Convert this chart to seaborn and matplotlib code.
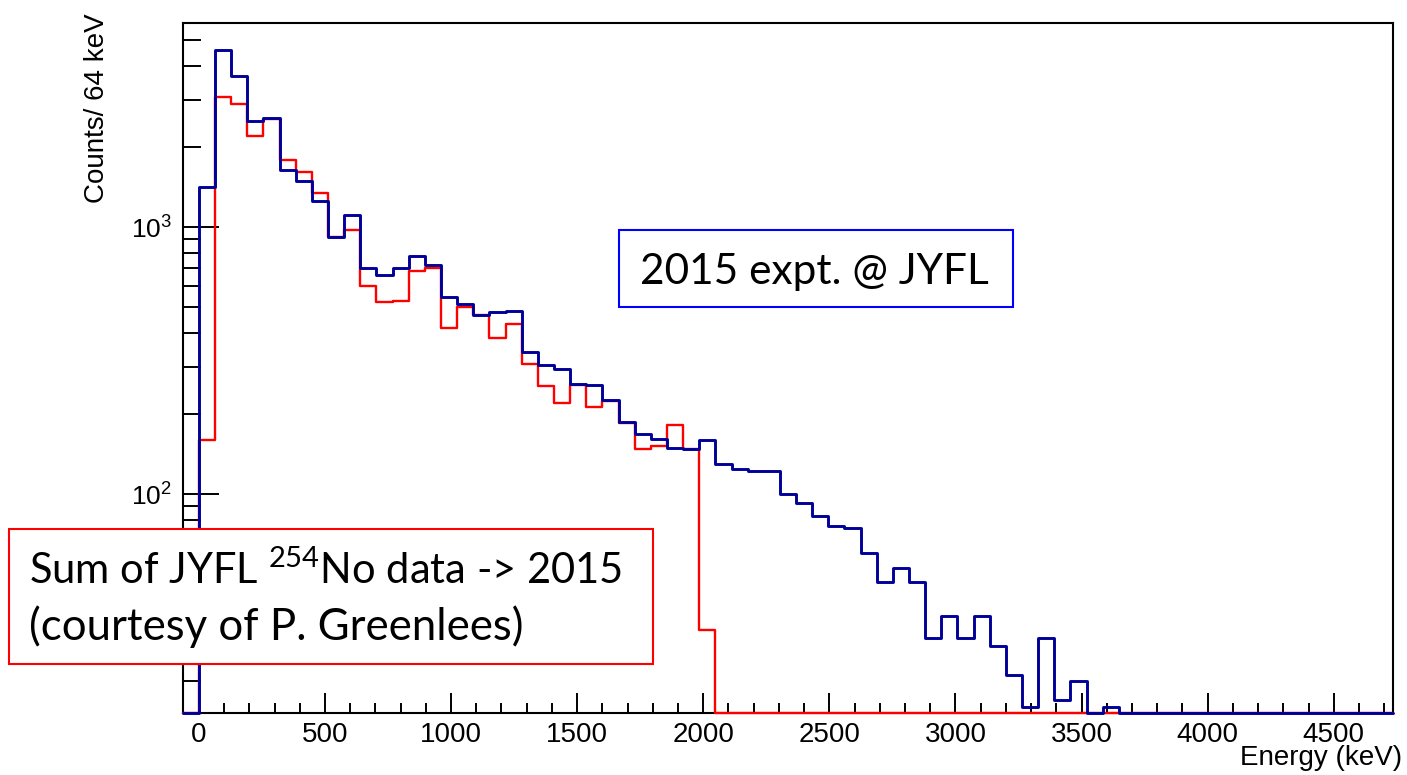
import numpy as np
import pandas as pd
import matplotlib
matplotlib.use("Agg")
import matplotlib.pyplot as plt
import matplotlib.ticker as mticker
from matplotlib.patches import Rectangle
import seaborn as sns

# 64 keV bins from -64 to 4736 keV
bin_width = 64
e_low = -64
e_high = 4736

# 2015 expt. @ JYFL (blue)
counts_2015 = [
    0, 1409, 4600, 3678, 2495, 2566, 1630, 1490, 1248, 920,
    1109, 700, 661, 700, 780, 721, 545, 515, 468, 482,
    486, 340, 304, 294, 258, 256, 225, 187, 168, 161,
    149, 147, 160, 130, 124, 122, 122, 100, 93, 83,
    76, 75, 60, 47, 53, 47, 29, 35, 29, 35,
    27, 21, 16, 29, 17, 20, 0, 16, 0, 0,
    0, 0, 0, 0, 0, 0, 0, 0, 0, 0,
    0, 0, 0, 0, 0,
]

# sum of JYFL 254No data -> 2015 (red)
counts_sum = [
    0, 160, 3076, 2884, 2193, 2536, 1778, 1611, 1340, 920,
    977, 601, 525, 530, 686, 700, 418, 500, 468, 385,
    433, 307, 255, 219, 256, 212, 224, 185, 148, 152,
    182, 147, 31, 0, 0, 0, 0, 0, 0, 0,
    0, 0, 0, 0, 0, 0, 0, 0, 0, 0,
    0, 0, 0, 0, 0, 0, 0, 0, 0, 0,
    0, 0, 0, 0, 0, 0, 0, 0, 0, 0,
    0, 0, 0, 0, 0,
]

x_ticks = [0, 500, 1000, 1500, 2000, 2500, 3000, 3500, 4000, 4500]

sns.set_style("white")
plt.rcParams["font.family"] = ["Liberation Sans", "DejaVu Sans"]
plt.rcParams["text.color"] = "black"
plt.rcParams["xtick.color"] = "black"
plt.rcParams["ytick.color"] = "black"

W, H = 1407, 775


def px(x, y):
    return x / W, 1 - y / H


edges = np.arange(e_low, e_high + bin_width, bin_width)
centers = edges[:-1] + bin_width / 2
y_min, y_max = 15.2, 5820

# empty bins sit on the lower frame, as in ROOT
df = pd.DataFrame({
    "energy": centers,
    "blue": np.clip(counts_2015, y_min, None),
    "red": np.clip(counts_sum, y_min, None),
})

fig = plt.figure(figsize=(W / 100, H / 100), dpi=100)
ax = fig.add_axes([182.7 / W, 1 - 712.7 / H, 1210.6 / W, 690 / H])

sns.histplot(data=df, x="energy", weights="red", bins=edges.tolist(),
             element="step", fill=False, color="#ff0000", linewidth=1.7,
             ax=ax, zorder=3, clip_on=False)
sns.histplot(data=df, x="energy", weights="blue", bins=edges.tolist(),
             element="step", fill=False, color="#000099", linewidth=2.1,
             ax=ax, zorder=4, clip_on=False)

ax.set_yscale("log")
ax.set_xlim(e_low, e_high)
ax.set_ylim(y_min, y_max)
ax.set_xticks(x_ticks)
ax.xaxis.set_minor_locator(mticker.MultipleLocator(100))
ax.yaxis.set_minor_locator(mticker.LogLocator(base=10, subs=np.arange(2, 10)))
ax.yaxis.set_minor_formatter(mticker.NullFormatter())
ax.set_xlabel("")
ax.set_ylabel("")

for s in ax.spines.values():
    s.set_color("black")
    s.set_linewidth(1.5)
    s.set_zorder(2.5)

ax.tick_params(axis="x", which="major", direction="in", length=14.5, width=1.4,
               labelsize=20, pad=6.5, bottom=True, top=False, color="black",
               labelcolor="black")
ax.tick_params(axis="x", which="minor", direction="in", length=7.2, width=1.4,
               bottom=True, top=False, color="black")
ax.tick_params(axis="y", which="major", direction="in", length=26, width=1.4,
               labelsize=19, pad=8, left=True, right=False, color="black",
               labelcolor="black")
ax.tick_params(axis="y", which="minor", direction="in", length=13, width=1.4,
               left=True, right=False, color="black")

fig.text(*px(97, 13), "Counts/ 64 keV", rotation=90, ha="center", va="top",
         fontsize=20, color="black")
fig.text(*px(1402, 765), "Energy (keV)", ha="right", va="baseline",
         fontsize=20, color="black")

# annotation boxes
bx0, by0 = px(619, 307.3)
fig.add_artist(Rectangle((bx0, by0), (1013.3 - 619) / W, (307.3 - 230) / H,
                         transform=fig.transFigure, facecolor="white",
                         edgecolor="#0000ff", linewidth=1.5))
fig.text(*px(640, 284.3), "2015 expt. @ JYFL", ha="left", va="baseline",
         fontsize=30.5, family="Lato", color="black")

rx0, ry0 = px(8.7, 664)
fig.add_artist(Rectangle((rx0, ry0), (653.3 - 8.7) / W, (664 - 529) / H,
                         transform=fig.transFigure, facecolor="white",
                         edgecolor="#ff0000", linewidth=1.5))
fig.text(*px(29, 584.3), r"Sum of JYFL $\mathregular{^{254}}$No data -> 2015",
         ha="left", va="baseline", fontsize=30, family="Lato", color="black")
fig.text(*px(29, 640), "(courtesy of P. Greenlees)", ha="left", va="baseline",
         fontsize=31.5, family="Lato", color="black")

fig.savefig("out.png", dpi=100, facecolor="white")
